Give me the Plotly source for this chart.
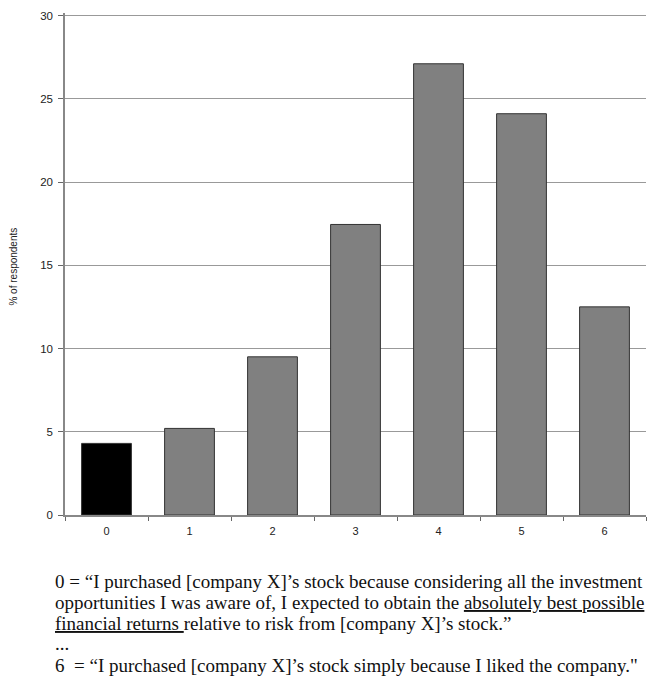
import plotly.graph_objects as go

categories = ["0", "1", "2", "3", "4", "5", "6"]
values = [4.3, 5.2, 9.5, 17.45, 27.1, 24.1, 12.5]
bar_colors = ["#000000", "#808080", "#808080", "#808080", "#808080", "#808080", "#808080"]
y_label = "% of respondents"
y_ticks = [0, 5, 10, 15, 20, 25, 30]
note_lines = [
    "0 = \u201cI purchased [company X]\u2019s stock because considering all the investment",
    "opportunities I was aware of, I expected to obtain the <u>absolutely best possible</u>",
    "<u>financial returns </u>relative to risk from [company X]\u2019s stock.\u201d",
    "...",
    "6  = \u201cI purchased [company X]\u2019s stock simply because I liked the company.\"",
]

# page has an 8px body margin; work in page coordinates
OFF = 8
W, H = 655 - OFF, 687 - OFF
Y_MAX = 30.15
plot_left, plot_right, plot_top, plot_bottom = 65.3, 638, 9.8, 515
L = plot_left - OFF
T = plot_top - OFF
R = 655 - OFF - plot_right
plot_w = plot_right - plot_left
plot_h = plot_bottom - plot_top
B = H - T - plot_h

fig = go.Figure()
fig.add_trace(go.Bar(
    x=categories, y=values,
    marker=dict(color=bar_colors, line=dict(color="#333333", width=1)),
    width=0.6,
))

line_y = [582, 603, 624, 644, 666]
anns = []
for txt, yp in zip(note_lines, line_y):
    anns.append(dict(
        text=txt, xref="paper", yref="paper",
        x=(53 - plot_left) / plot_w, y=(plot_bottom - yp) / plot_h,
        xanchor="left", yanchor="middle", showarrow=False,
        font=dict(family="Liberation Serif", size=19, color="#111111"),
    ))
anns.append(dict(
    text=y_label, xref="paper", yref="paper",
    x=(15 - plot_left) / plot_w, y=(plot_bottom - 265) / plot_h,
    xanchor="center", yanchor="middle", showarrow=False, textangle=-90,
    font=dict(family="Liberation Sans", size=10, color="#222222"),
))

fig.update_layout(
    width=W, height=H,
    margin=dict(l=L, r=R, t=T, b=B),
    paper_bgcolor="white", plot_bgcolor="white",
    showlegend=False,
    annotations=anns,
    xaxis=dict(
        type="category", tickson="boundaries", ticks="outside", ticklen=4,
        tickcolor="#666666", showline=True, linecolor="#888888", linewidth=1.5,
        showgrid=False, ticklabelstandoff=5,
        tickfont=dict(family="Liberation Sans", size=11, color="#222222"),
        range=[-0.5, 6.5],
    ),
    yaxis=dict(
        range=[0, Y_MAX], tickvals=y_ticks, ticks="outside", ticklen=5,
        tickcolor="#666666", ticklabeloverflow="allow", ticklabelstandoff=3,
        showline=True, linecolor="#888888", linewidth=1.5,
        showgrid=True, gridcolor="#999999", gridwidth=1.2,
        zeroline=False,
        tickfont=dict(family="Liberation Sans", size=11.5, color="#222222"),
    ),
)

fig.write_html("out.html")
